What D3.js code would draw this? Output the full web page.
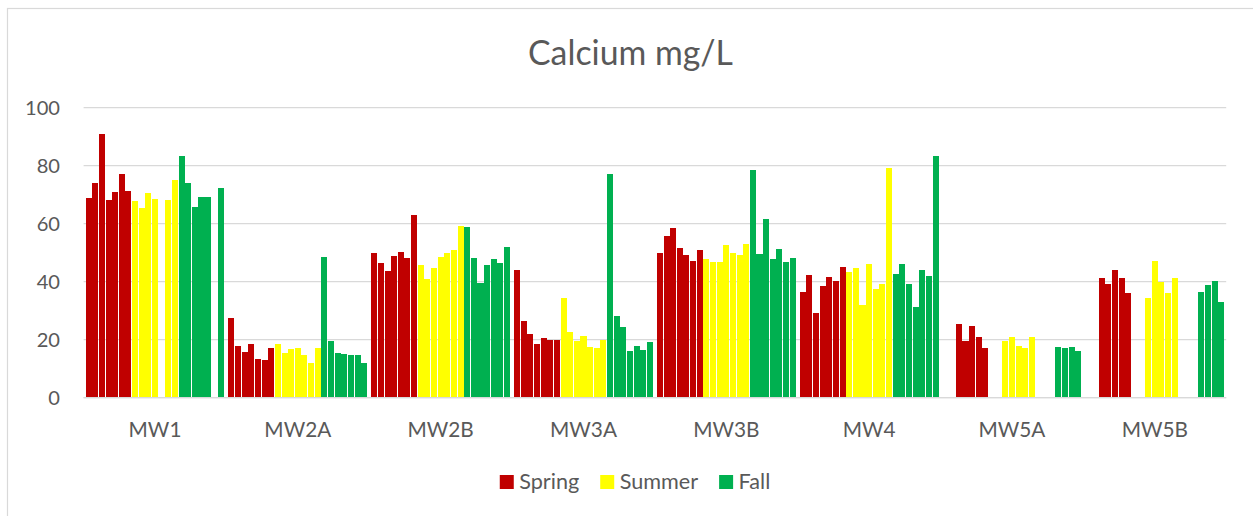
<!DOCTYPE html>
<html><head><meta charset="utf-8">
<script src="https://cdn.jsdelivr.net/npm/d3@7"></script>
<style>
body{margin:0;background:#fff}
svg{display:block}
text{font-family:Lato,"Open Sans",sans-serif;fill:#595959}
</style>
</head><body>
<svg id="c" width="1253" height="516"></svg>
<script>
const sites = ["MW1","MW2A","MW2B","MW3A","MW3B","MW4","MW5A","MW5B"];
const seasons = ["Spring","Summer","Fall"];
const seasonColors = ["#C00000","#FFFF00","#00B050"];
const yTicks = [0,20,40,60,80,100];

// one row per site, seven sampling years per season (null = no sample)
const springValues = [
  [68.9,74.0,90.9,68.2,70.9,77.1,71.3],
  [27.5,17.8,15.8,18.5,13.3,13.0,17.1],
  [49.9,46.4,43.7,48.9,50.2,48.2,63.0],
  [44.0,26.4,21.9,18.5,20.6,19.9,19.9],
  [49.9,55.7,58.5,51.6,49.2,47.1,50.9],
  [36.4,42.3,29.2,38.5,41.6,40.2,45.0],
  [null,null,25.3,19.5,24.7,20.9,17.1],
  [null,null,41.3,39.2,44.0,41.3,36.1]
];
const summerValues = [
  [67.8,65.4,70.6,68.5,null,68.2,75.1],
  [18.5,15.4,16.8,17.1,14.7,11.9,17.1],
  [45.8,40.9,44.8,48.5,49.9,50.9,59.2],
  [34.4,22.6,19.5,21.3,17.5,17.1,19.9],
  [47.8,46.8,46.8,52.6,49.9,49.2,53.0],
  [43.3,44.7,31.9,46.1,37.5,39.2,79.2],
  [null,null,19.5,20.9,17.8,17.1,20.9],
  [null,null,34.4,47.1,39.9,36.1,41.3]
];
const fallValues = [
  [83.4,74.0,65.8,69.2,69.2,null,72.3],
  [48.4,19.5,15.4,15.1,14.7,14.7,11.9],
  [58.8,48.2,39.5,45.8,47.8,46.4,51.9],
  [77.1,28.2,24.4,16.1,17.8,16.4,19.2],
  [78.5,49.5,61.6,47.8,51.3,46.8,48.2],
  [42.6,46.1,39.2,31.2,44.0,42.0,83.4],
  [null,null,null,17.5,17.1,17.5,16.1],
  [null,null,null,36.4,38.8,40.2,33.0]
];

const seasonValues = [springValues, summerValues, fallValues];
const nYears = 7;
const slots = d3.range(seasons.length * nYears);

const bars = [];
sites.forEach((site, i) => {
  seasonValues.forEach((rows, s) => {
    rows[i].forEach((v, j) => {
      if (v != null) bars.push({site, season: s, slot: s * nYears + j, value: v});
    });
  });
});

const svg = d3.select("#c");
const plotL = 83.6, plotR = 1226.2, plotT = 107.7, plotB = 397.7;

function fitSize(txt, base, target) {
  const t = svg.append("text").attr("font-size", base).text(txt);
  const w = t.node().getComputedTextLength();
  t.remove();
  return base * target / w;
}
const titleSize = fitSize("Calcium mg/L", 36, 205);
const tickSize = fitSize("100", 22, 35);
const catSize = fitSize("MW2A", 22, 67);
const legSize = fitSize("Spring", 22, 60);

// chart border (only top/left visible in frame)
svg.append("rect").attr("x", 7.5).attr("y", 8.5).attr("width", 1400).attr("height", 700)
  .attr("fill", "none").attr("stroke", "#d9d9d9").attr("stroke-width", 1.2);

const x0 = d3.scaleBand().domain(sites).range([plotL, plotR]).paddingInner(0).paddingOuter(0);
const x1 = d3.scaleBand().domain(slots).range([0, x0.bandwidth()]).paddingInner(0.09).paddingOuter(0.3);
const y = d3.scaleLinear().domain([0, 100]).range([plotB, plotT]);

// gridlines
svg.append("g").selectAll("line").data(yTicks).join("line")
  .attr("x1", plotL).attr("x2", plotR)
  .attr("y1", d => y(d)).attr("y2", d => y(d))
  .attr("stroke", "#d9d9d9").attr("stroke-width", 1.3);

// y labels
svg.append("g").selectAll("text").data(yTicks).join("text")
  .attr("x", 60).attr("y", d => y(d) + tickSize * 0.35)
  .attr("text-anchor", "end").attr("font-size", tickSize)
  .text(d => d);

// bars
svg.append("g").selectAll("rect").data(bars).join("rect")
  .attr("x", d => x0(d.site) + x1(d.slot))
  .attr("width", x1.bandwidth())
  .attr("y", d => y(d.value))
  .attr("height", d => y(0) - y(d.value))
  .attr("fill", d => seasonColors[d.season])
  .attr("shape-rendering", "crispEdges");

// baseline
svg.append("line").attr("x1", plotL).attr("x2", plotR).attr("y1", y(0)).attr("y2", y(0))
  .attr("stroke", "#d9d9d9").attr("stroke-width", 1.3);

// category labels
svg.append("g").selectAll("text").data(sites).join("text")
  .attr("x", d => x0(d) + x0.bandwidth() / 2).attr("y", 437)
  .attr("text-anchor", "middle").attr("font-size", catSize)
  .text(d => d);

// title
svg.append("text").attr("x", 630.5).attr("y", 65).attr("text-anchor", "middle")
  .attr("font-size", titleSize).text("Calcium mg/L");

// legend
const leg = svg.append("g");
let lx = 0;
seasons.forEach((s, i) => {
  const g = leg.append("g");
  g.append("rect").attr("x", 0).attr("y", 475).attr("width", 14).attr("height", 14)
    .attr("fill", seasonColors[i]);
  const t = g.append("text").attr("x", 19.5).attr("y", 489).attr("font-size", legSize).text(s);
  const w = 19.5 + t.node().getComputedTextLength();
  g.attr("transform", `translate(${lx},0)`);
  lx += w + 21;
});
const totalW = lx - 21;
leg.attr("transform", `translate(${635 - totalW / 2},0)`);
</script>
</body></html>
